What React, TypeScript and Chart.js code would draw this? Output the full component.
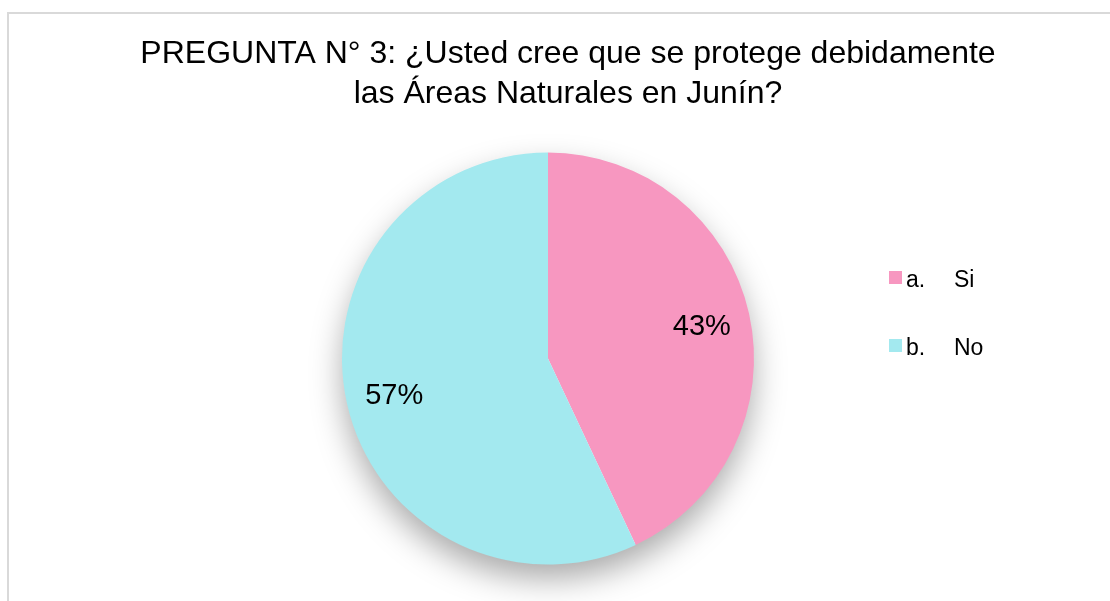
import React, { useEffect, useRef } from "react";
import { Chart, registerables } from "chart.js";

Chart.register(...registerables);

const titleLines = [
  "PREGUNTA N° 3: ¿Usted cree que se protege debidamente",
  "las Áreas Naturales en Junín?",
];
const markers = ["a.", "b."];
const categories = ["Si", "No"];
const values = [43, 57];
const sliceColors = ["#F797C0", "#A3E9EF"];

const FONT = '"Liberation Sans", Arial, sans-serif';

const decorPlugin = {
  id: "decor",
  beforeDatasetsDraw(chart: any) {
    const ctx = chart.ctx;
    const arc = chart.getDatasetMeta(0).data[0];
    if (!arc) return;
    const { x, y, outerRadius } = arc.getProps(["x", "y", "outerRadius"], true);
    ctx.save();
    ctx.shadowColor = "rgba(0,0,0,0.34)";
    ctx.shadowBlur = 32;
    ctx.shadowOffsetX = 0;
    ctx.shadowOffsetY = 15;
    ctx.fillStyle = "#ffffff";
    ctx.beginPath();
    ctx.arc(x, y, outerRadius - 1, 0, Math.PI * 2);
    ctx.fill();
    ctx.restore();
  },
  afterDraw(chart: any) {
    const ctx = chart.ctx;
    ctx.save();
    // Title
    ctx.fillStyle = "#000000";
    ctx.font = `32px ${FONT}`;
    ctx.textAlign = "center";
    ctx.textBaseline = "alphabetic";
    ctx.fillText(titleLines[0], 568, 63);
    ctx.fillText(titleLines[1], 568, 103);

    // Data labels
    const meta = chart.getDatasetMeta(0);
    const total = values.reduce((a, b) => a + b, 0);
    ctx.font = `29px ${FONT}`;
    ctx.textBaseline = "middle";
    meta.data.forEach((el: any, i: number) => {
      const p = el.getProps(["x", "y", "startAngle", "endAngle", "outerRadius"], true);
      const mid = (p.startAngle + p.endAngle) / 2;
      const d = p.outerRadius * 0.765;
      const lx = p.x + Math.cos(mid) * d;
      const ly = p.y + Math.sin(mid) * d;
      ctx.fillText(Math.round((values[i] / total) * 100) + "%", lx, ly + 3);
    });

    // Legend
    ctx.font = `23px ${FONT}`;
    ctx.textAlign = "left";
    ctx.textBaseline = "alphabetic";
    const rows = [287, 355];
    categories.forEach((c, i) => {
      const by = rows[i];
      ctx.fillStyle = sliceColors[i];
      ctx.fillRect(889, by - 16, 13, 13);
      ctx.fillStyle = "#000000";
      ctx.fillText(markers[i], 906, by);
      ctx.fillText(c, 954, by);
    });
    ctx.restore();
  },
};

export default function App() {
  const canvasRef = useRef<HTMLCanvasElement | null>(null);

  useEffect(() => {
    if (!canvasRef.current) return;
    const chart = new Chart(canvasRef.current, {
      type: "pie",
      data: {
        labels: categories.map((c, i) => `${markers[i]} ${c}`),
        datasets: [
          {
            data: values,
            backgroundColor: sliceColors,
            borderWidth: 0,
          },
        ],
      },
      options: {
        animation: false,
        responsive: true,
        maintainAspectRatio: false,
        layout: {
          padding: { top: 152, bottom: 36, left: 342, right: 356 },
        },
        plugins: {
          legend: { display: false },
          title: { display: false },
          tooltip: { enabled: false },
        },
      },
      plugins: [decorPlugin],
    });
    return () => chart.destroy();
  }, []);

  return (
    <div
      style={{
        position: "fixed",
        left: 0,
        top: 0,
        width: 1110,
        height: 601,
        background: "#ffffff",
        overflow: "hidden",
      }}
    >
      <div
        style={{
          position: "absolute",
          left: 7,
          top: 12,
          width: 1200,
          height: 700,
          borderTop: "2px solid #d9d9d9",
          borderLeft: "2px solid #d9d9d9",
        }}
      />
      <div style={{ position: "absolute", left: 0, top: 0, width: 1110, height: 601 }}>
        <canvas ref={canvasRef} />
      </div>
    </div>
  );
}
